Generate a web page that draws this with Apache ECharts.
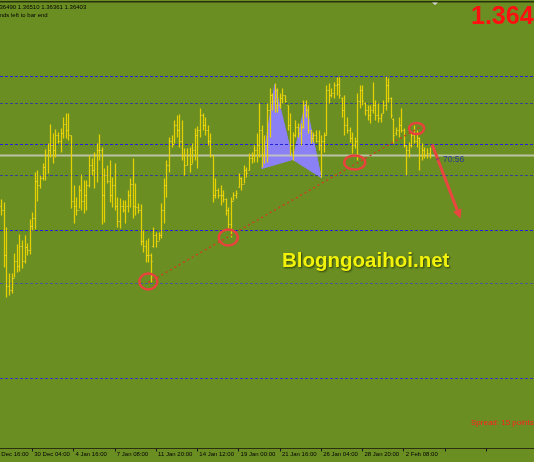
<!DOCTYPE html>
<html><head><meta charset="utf-8">
<script src="https://cdn.jsdelivr.net/npm/echarts@6/dist/echarts.min.js"></script>
<style>html,body{margin:0;padding:0;background:#6b8e23;overflow:hidden}#c{width:534px;height:462px}</style>
</head><body><div id="c"></div>
<script>
// ---- data ----
const timeLabels = ['27 Dec 16:00','30 Dec 04:00','4 Jan 16:00','7 Jan 08:00','11 Jan 20:00','14 Jan 12:00','19 Jan 00:00','21 Jan 16:00','26 Jan 04:00','28 Jan 20:00','2 Feb 08:00'];
const barHigh = [
1.3596,1.3593,1.3568,1.3522,1.3522,1.3542,1.3551,1.3561,1.3555,1.3560,
1.3552,1.3576,1.3583,1.3623,1.3625,1.3620,1.3632,1.3646,1.3652,1.3671,
1.3662,1.3666,1.3663,1.3667,1.3678,1.3682,1.3682,1.3660,1.3610,1.3598,
1.3610,1.3621,1.3615,1.3615,1.3640,1.3637,1.3643,1.3652,1.3661,1.3648,
1.3627,1.3630,1.3635,1.3618,1.3632,1.3598,1.3597,1.3595,1.3595,1.3605,
1.3617,1.3637,1.3612,1.3592,1.3591,1.3565,1.3555,1.3557,1.3542,1.3568,
1.3563,1.3563,1.3592,1.3617,1.3635,1.3658,1.3660,1.3675,1.3680,1.3681,
1.3675,1.3647,1.3647,1.3648,1.3652,1.3667,1.3669,1.3687,1.3682,1.3678,
1.3670,1.3662,1.3640,1.3617,1.3607,1.3610,1.3605,1.3597,1.3588,1.3598,
1.3603,1.3605,1.3622,1.3618,1.3630,1.3628,1.3642,1.3643,1.3650,1.3662,
1.3692,1.3670,1.3660,1.3692,1.3707,1.3702,1.3712,1.3707,1.3702,1.3707,
1.3700,1.3690,1.3682,1.3663,1.3675,1.3672,1.3672,1.3695,1.3695,1.3690,
1.3665,1.3663,1.3665,1.3665,1.3660,1.3663,1.3710,1.3712,1.3707,1.3713,
1.3718,1.3718,1.3698,1.3700,1.3678,1.3668,1.3663,1.3658,1.3702,1.3710,
1.3710,1.3693,1.3690,1.3690,1.3713,1.3695,1.3692,1.3682,1.3695,1.3719,
1.3717,1.3698,1.3677,1.3668,1.3678,1.3687,1.3667,1.3650,1.3653,1.3662,
1.3670,1.3665,1.3658,1.3652,1.3648,1.3647,1.3648];
const barLow = [
1.3580,1.3528,1.3498,1.3500,1.3502,1.3518,1.3523,1.3524,1.3527,1.3532,
1.3540,1.3541,1.3565,1.3566,1.3594,1.3607,1.3615,1.3615,1.3622,1.3638,
1.3632,1.3638,1.3652,1.3643,1.3657,1.3657,1.3655,1.3587,1.3572,1.3580,
1.3587,1.3585,1.3582,1.3585,1.3608,1.3620,1.3607,1.3613,1.3635,1.3571,
1.3573,1.3612,1.3593,1.3588,1.3585,1.3568,1.3567,1.3583,1.3572,1.3583,
1.3588,1.3577,1.3580,1.3582,1.3550,1.3543,1.3533,1.3533,1.3513,1.3548,
1.3548,1.3555,1.3557,1.3572,1.3598,1.3623,1.3648,1.3652,1.3658,1.3648,
1.3635,1.3620,1.3630,1.3623,1.3632,1.3635,1.3627,1.3658,1.3665,1.3660,
1.3650,1.3638,1.3593,1.3597,1.3597,1.3590,1.3593,1.3580,1.3567,1.3558,
1.3595,1.3597,1.3608,1.3605,1.3612,1.3618,1.3625,1.3632,1.3633,1.3633,
1.3638,1.3628,1.3632,1.3633,1.3658,1.3685,1.3683,1.3683,1.3687,1.3692,
1.3693,1.3665,1.3640,1.3635,1.3658,1.3658,1.3650,1.3667,1.3678,1.3662,
1.3652,1.3653,1.3653,1.3645,1.3618,1.3643,1.3660,1.3692,1.3698,1.3697,
1.3700,1.3697,1.3678,1.3660,1.3662,1.3653,1.3642,1.3647,1.3635,1.3687,
1.3690,1.3680,1.3675,1.3672,1.3682,1.3675,1.3673,1.3673,1.3682,1.3685,
1.3693,1.3677,1.3652,1.3660,1.3658,1.3663,1.3648,1.3620,1.3638,1.3648,
1.3652,1.3648,1.3625,1.3635,1.3637,1.3637,1.3637];
const barOpen = [
1.3590,1.3585,1.3540,1.3510,1.3505,1.3518,1.3535,1.3530,1.3550,1.3535,
1.3548,1.3545,1.3570,1.3578,1.3615,1.3610,1.3618,1.3628,1.3640,1.3645,
1.3650,1.3645,1.3660,1.3655,1.3662,1.3672,1.3665,1.3660,1.3595,1.3590,
1.3585,1.3605,1.3595,1.3600,1.3610,1.3630,1.3625,1.3640,1.3645,1.3645,
1.3600,1.3620,1.3615,1.3600,1.3610,1.3590,1.3575,1.3590,1.3585,1.3590,
1.3600,1.3612,1.3590,1.3588,1.3585,1.3555,1.3550,1.3540,1.3540,1.3550,
1.3560,1.3555,1.3560,1.3585,1.3610,1.3630,1.3655,1.3652,1.3670,1.3665,
1.3655,1.3640,1.3630,1.3640,1.3632,1.3645,1.3660,1.3665,1.3680,1.3670,
1.3665,1.3655,1.3640,1.3600,1.3605,1.3600,1.3600,1.3597,1.3585,1.3572,
1.3595,1.3600,1.3608,1.3618,1.3612,1.3625,1.3625,1.3638,1.3640,1.3645,
1.3650,1.3665,1.3640,1.3650,1.3685,1.3700,1.3695,1.3705,1.3690,1.3698,
1.3700,1.3690,1.3670,1.3650,1.3660,1.3668,1.3662,1.3668,1.3690,1.3685,
1.3665,1.3658,1.3660,1.3655,1.3650,1.3655,1.3660,1.3705,1.3700,1.3702,
1.3710,1.3712,1.3698,1.3685,1.3670,1.3665,1.3658,1.3650,1.3655,1.3695,
1.3705,1.3693,1.3685,1.3680,1.3685,1.3690,1.3680,1.3678,1.3682,1.3690,
1.3710,1.3698,1.3677,1.3662,1.3665,1.3670,1.3665,1.3650,1.3645,1.3650,
1.3660,1.3655,1.3658,1.3640,1.3645,1.3640,1.3642];
const barClose = [
1.3585,1.3540,1.3510,1.3505,1.3518,1.3535,1.3530,1.3550,1.3535,1.3548,
1.3545,1.3570,1.3578,1.3615,1.3610,1.3618,1.3628,1.3640,1.3645,1.3650,
1.3645,1.3660,1.3655,1.3662,1.3672,1.3665,1.3660,1.3595,1.3590,1.3585,
1.3605,1.3595,1.3600,1.3610,1.3630,1.3625,1.3640,1.3645,1.3645,1.3600,
1.3620,1.3615,1.3600,1.3610,1.3590,1.3575,1.3590,1.3585,1.3590,1.3600,
1.3612,1.3590,1.3588,1.3585,1.3555,1.3550,1.3540,1.3540,1.3535,1.3560,
1.3555,1.3560,1.3585,1.3610,1.3630,1.3655,1.3652,1.3670,1.3665,1.3655,
1.3640,1.3630,1.3640,1.3632,1.3645,1.3660,1.3665,1.3680,1.3670,1.3665,
1.3655,1.3640,1.3600,1.3605,1.3600,1.3600,1.3597,1.3585,1.3572,1.3595,
1.3600,1.3602,1.3618,1.3612,1.3625,1.3622,1.3638,1.3640,1.3645,1.3650,
1.3665,1.3640,1.3650,1.3685,1.3700,1.3695,1.3705,1.3690,1.3698,1.3700,
1.3695,1.3670,1.3650,1.3660,1.3668,1.3662,1.3668,1.3690,1.3685,1.3665,
1.3658,1.3660,1.3655,1.3650,1.3655,1.3660,1.3705,1.3700,1.3702,1.3710,
1.3712,1.3700,1.3685,1.3670,1.3665,1.3658,1.3650,1.3655,1.3695,1.3705,
1.3695,1.3685,1.3680,1.3685,1.3690,1.3680,1.3678,1.3680,1.3690,1.3710,
1.3698,1.3680,1.3660,1.3665,1.3670,1.3665,1.3650,1.3645,1.3650,1.3660,
1.3655,1.3658,1.3640,1.3645,1.3640,1.3642,1.3640];
const levelPrices = [1.3719,1.3692,1.3651,1.3620,1.3565,1.3512,1.3417];
const bidPrice = 1.36403;
const patternIdx = [101,106,113,118,124];
const patternPrice = [1.3627,1.3711,1.3636,1.3693,1.3618];
const trendIdx = [57,162];
const trendPrice = [1.3513,1.3668];
const circleIdx = [57,88,137,161];
const circlePrice = [1.3514,1.3558,1.3633,1.3667];
const arrowIdx = [167,178];
const arrowPrice = [1.3651,1.3577];
const quoteText = '1.36490 1.36510 1.36361 1.36403';

// ---- layout / styles ----
const LEAD = 4, SLOTS = 211, TICK_EVERY = 16;
const levelColors = ['#2222dc','#364490','#2222dc','#364490','#2222dc','#475a92','#3038c4'];
const cats = Array.from({length: SLOTS}, (_, i) => (i % TICK_EVERY === 0 && timeLabels[i / TICK_EVERY]) ? timeLabels[i / TICK_EVERY] : '');
const bars = barOpen.map((o, i) => [i + LEAD, o, barClose[i], barLow[i], barHigh[i]]);
const BAR = '#e6d000';
const chart = echarts.init(document.getElementById('c'), null, {renderer: 'canvas'});
const tickShow = (i) => i % TICK_EVERY === 0;
chart.setOption({
  backgroundColor: '#6b8e23',
  animation: false,
  grid: {left: -10.32, right: 0, top: 2.5, bottom: 13.5, containLabel: false, outerBoundsMode: 'none'},
  xAxis: {
    type: 'category', data: cats, boundaryGap: true,
    axisLine: {lineStyle: {color: '#2a3010', width: 1}},
    axisTick: {show: true, interval: (i) => tickShow(i), alignWithLabel: true, length: 3, lineStyle: {color: '#1a1a1a'}},
    axisLabel: {interval: (i) => tickShow(i), align: 'left', margin: 3, fontSize: 6, color: '#000', fontFamily: 'Liberation Sans', padding: [0,0,0,2], showMaxLabel: false, showMinLabel: true, hideOverlap: false},
    splitLine: {show: false}
  },
  yAxis: {type: 'value', min: 1.3347, max: 1.3793, show: false, splitLine: {show: false}},
  series: [{
    type: 'custom',
    z: 3,
    data: bars,
    encode: {x: 0, y: [1, 2, 3, 4]},
    renderItem: function (params, api) {
      const x = api.value(0);
      const o = api.coord([x, api.value(1)]);
      const c = api.coord([x, api.value(2)]);
      const l = api.coord([x, api.value(3)]);
      const h = api.coord([x, api.value(4)]);
      const px = Math.round(h[0]) + 0.5;
      return {type: 'group', children: [
        {type: 'line', shape: {x1: px, y1: h[1], x2: px, y2: l[1]}, style: {stroke: 'rgba(230,208,0,0.16)', lineWidth: 2.6}},
        {type: 'line', shape: {x1: px, y1: h[1], x2: px, y2: l[1]}, style: {stroke: BAR, lineWidth: 1}},
        {type: 'line', shape: {x1: px - 1.2, y1: Math.round(o[1]) + 0.5, x2: px, y2: Math.round(o[1]) + 0.5}, style: {stroke: 'rgba(240,220,60,0.7)', lineWidth: 1}},
        {type: 'line', shape: {x1: px, y1: Math.round(c[1]) + 0.5, x2: px + 1.2, y2: Math.round(c[1]) + 0.5}, style: {stroke: 'rgba(240,220,60,0.7)', lineWidth: 1}}
      ]};
    }
  }]
});

const P = (i, p) => chart.convertToPixel({gridIndex: 0}, [i + LEAD, p]);
const g = [];
// horizontal levels and bid line (pixel-snapped)
levelPrices.forEach((p, k) => {
  const y = Math.floor(P(0, p)[1]) + 0.5;
  g.push({type: 'line', z: 2, shape: {x1: 0, y1: y, x2: 534, y2: y}, style: {stroke: levelColors[k], lineWidth: 1, lineDash: [3, 2]}});
});
const by0 = Math.floor(P(0, bidPrice)[1]);
g.push({type: 'rect', z: 2, shape: {x: 0, y: by0 - 0.5, width: 534, height: 2}, style: {fill: 'rgba(200,204,184,0.85)'}});
// harmonic pattern triangles
const pp = patternIdx.map((i, k) => P(i, patternPrice[k]));
[[0,1,2],[2,3,4]].forEach(t => g.push({type: 'polygon', z: 1, shape: {points: t.map(k => pp[k])}, style: {fill: 'rgb(140,128,245)', stroke: 'rgb(140,128,245)', lineWidth: 1}}));
// trend line
const t0 = P(trendIdx[0], trendPrice[0]), t1 = P(trendIdx[1], trendPrice[1]);
g.push({type: 'line', z: 50, shape: {x1: t0[0], y1: t0[1], x2: t1[0], y2: t1[1]}, style: {stroke: '#c8421e', lineWidth: 1.5, lineDash: [2, 3]}});
// circles
const radii = [[9, 8], [9.5, 8], [10.5, 7], [7.5, 5.5]];
circleIdx.forEach((i, k) => {
  const c = P(i, circlePrice[k]);
  g.push({type: 'ellipse', z: 60, shape: {cx: c[0], cy: c[1], rx: radii[k][0], ry: radii[k][1]}, style: {fill: 'none', stroke: '#e8423c', lineWidth: 2.5}});
});
// arrow
const a0 = P(arrowIdx[0], arrowPrice[0]), a1 = P(arrowIdx[1], arrowPrice[1]);
const dx = a1[0] - a0[0], dy = a1[1] - a0[1], len = Math.hypot(dx, dy), ux = dx / len, uy = dy / len;
const bx = a1[0] - ux * 9, by = a1[1] - uy * 9;
g.push({type: 'line', z: 60, shape: {x1: a0[0], y1: a0[1], x2: bx, y2: by}, style: {stroke: '#e8463e', lineWidth: 3}});
g.push({type: 'polygon', z: 60, shape: {points: [[a1[0], a1[1]], [bx - uy * 4.5, by + ux * 4.5], [bx + uy * 4.5, by - ux * 4.5]]}, style: {fill: '#e8463e'}});
// countdown label near bid line
const b = P(165, bidPrice);
g.push({type: 'text', z: 70, style: {text: '<', x: 436, y: b[1] + 4, fontSize: 6, fill: '#2a3a9a', fontFamily: 'Liberation Sans', verticalAlign: 'middle'}});
g.push({type: 'text', z: 70, style: {text: '70:56', x: 443, y: b[1] + 4, fontSize: 8.5, fill: '#2a3a9a', fontFamily: 'Liberation Sans', verticalAlign: 'middle'}});
// frame and texts
g.push({type: 'rect', z: 80, shape: {x: 0, y: 1, width: 534, height: 1.5}, style: {fill: '#28300e'}});
g.push({type: 'polygon', z: 81, shape: {points: [[432, 2.5], [438, 2.5], [435, 5]]}, style: {fill: '#d8d8d8'}});
g.push({type: 'text', z: 80, style: {text: quoteText, x: -5.5, y: 7, fontSize: 6, fill: '#000', fontFamily: 'Liberation Sans', verticalAlign: 'middle'}});
g.push({type: 'text', z: 80, style: {text: 'Seconds left to bar end', x: -14, y: 15, fontSize: 6, fill: '#000', fontFamily: 'Liberation Sans', verticalAlign: 'middle'}});
g.push({type: 'text', z: 80, style: {text: '1.36403', x: 471, y: 17, fontSize: 25, fontWeight: 'bold', fill: '#ff1010', fontFamily: 'Liberation Sans', verticalAlign: 'middle'}});
g.push({type: 'text', z: 80, style: {text: 'Spread: 15 points', x: 471, y: 423, fontSize: 8, fill: '#ff2020', fontFamily: 'Liberation Sans', verticalAlign: 'middle'}});
g.push({type: 'text', z: 90, style: {text: 'Blogngoaihoi.net', x: 282, y: 261, fontSize: 20.5, fontWeight: 'bold', fill: '#f2f20a', fontFamily: 'Liberation Sans', verticalAlign: 'middle', textShadowColor: 'rgba(30,40,0,0.75)', textShadowBlur: 2, textShadowOffsetX: 1, textShadowOffsetY: 1}});
chart.setOption({graphic: {elements: g}});
</script></body></html>
